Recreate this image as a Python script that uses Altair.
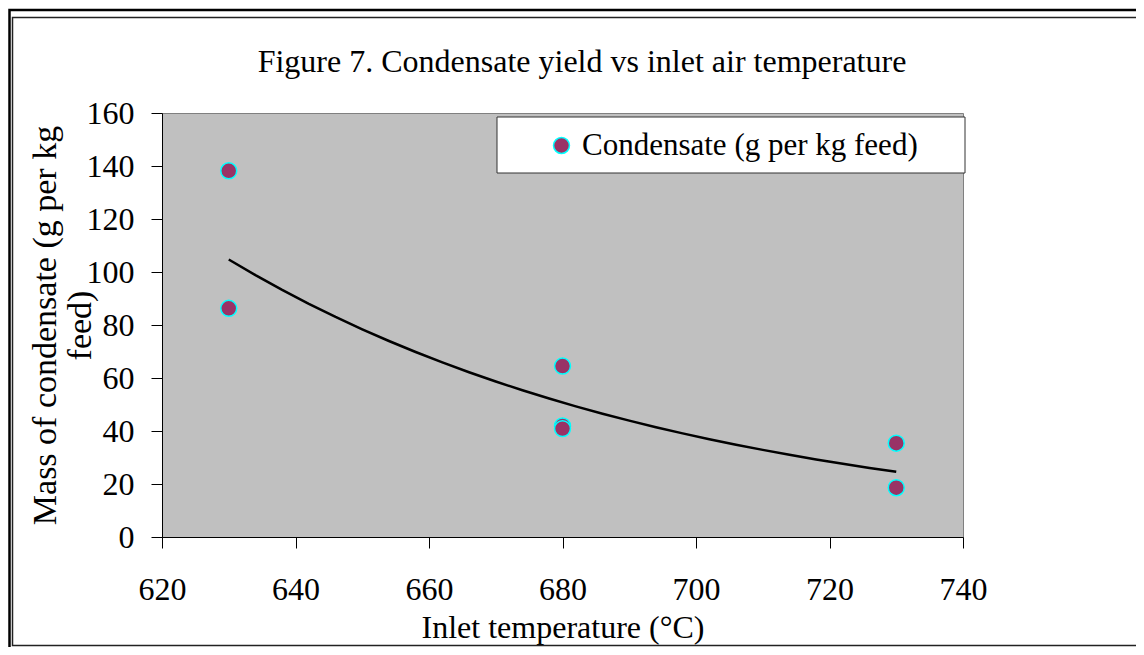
import altair as alt
import pandas as pd

# Data
temps = [630, 630, 680, 680, 680, 730, 730]
condensate = [138.2, 86.3, 64.5, 41.9, 40.9, 35.4, 18.6]
series_name = "Condensate (g per kg feed)"
x_ticks = [620, 640, 660, 680, 700, 720, 740]
y_ticks = [0, 20, 40, 60, 80, 100, 120, 140, 160]

title_text = "Figure 7. Condensate yield vs inlet air temperature"
x_title = "Inlet temperature (°C)"
y_title = ["Mass of condensate (g per kg", "feed)"]

FONT = "Liberation Serif"
W, H_PLOT = 801, 424
PAD_L, PAD_T = 154, 105
SVG_W, SVG_H = 1128, 639

df = pd.DataFrame({"x": temps, "y": condensate, "series": [series_name] * len(temps)})
one = pd.DataFrame({"k": [0]})

xscale = alt.Scale(domain=[620, 740], nice=False, zero=False)
yscale = alt.Scale(domain=[0, 160], nice=False)

xaxis = alt.Axis(values=x_ticks, grid=False, title=x_title, tickSize=11, tickColor="black",
                 domainColor="black", domainWidth=1, labelFont=FONT, labelFontSize=32,
                 labelColor="black", labelPadding=26, titleFont=FONT, titleFontSize=32,
                 titleFontWeight="normal", titleColor="black", titleBaseline="alphabetic",
                 titleY=100, labelFlush=False, labelOverlap=False)
yaxis = alt.Axis(values=y_ticks, grid=False, title=y_title, tickSize=11, tickColor="black",
                 domainColor="black", domainWidth=1, labelFont=FONT, labelFontSize=32,
                 labelColor="black", labelPadding=17, titleFont=FONT, titleFontSize=34,
                 titleFontWeight="normal", titleColor="black", titleBaseline="alphabetic",
                 titleAngle=270, titleX=-107, titleY=212, titleAlign="center",
                 titleLineHeight=35, labelFlush=False, labelOverlap=False)

# decorative frame (double border)
outer = alt.Chart(one).mark_rect(fillOpacity=0, stroke="black", strokeWidth=2.5).encode(
    x=alt.value(-PAD_L + 1.5), x2=alt.value(1200), y=alt.value(-PAD_T + 2), y2=alt.value(900))
inner = alt.Chart(one).mark_rect(fillOpacity=0, stroke="#222222", strokeWidth=1.5).encode(
    x=alt.value(-149.5), x2=alt.value(1200), y=alt.value(-95.5),
    y2=alt.value(SVG_H - PAD_T - 1.5))

title = alt.Chart(one).mark_text(font=FONT, fontSize=32, align="center", baseline="alphabetic",
                                 color="black").encode(
    x=alt.value(420), y=alt.value(-41), text=alt.value(title_text))

legend_box = alt.Chart(one).mark_rect(fill="white", stroke="#333333", strokeWidth=1).encode(
    x=alt.value(335), x2=alt.value(803), y=alt.value(4), y2=alt.value(60))

trend = alt.Chart(df).transform_calculate(
    ly="log(datum.y)"
).transform_regression(
    "x", "ly", method="poly", order=1
).transform_calculate(
    yfit="exp(datum.ly)"
).mark_line(color="black", strokeWidth=2.5).encode(
    x=alt.X("x:Q", scale=xscale, axis=xaxis),
    y=alt.Y("yfit:Q", scale=yscale, axis=yaxis),
)

points = alt.Chart(df).mark_circle(size=254, opacity=1, stroke="#00FFFF", strokeWidth=1.5).encode(
    x=alt.X("x:Q", scale=xscale, axis=xaxis),
    y=alt.Y("y:Q", scale=yscale, axis=yaxis),
    fill=alt.Fill("series:N", scale=alt.Scale(range=["#993366"]),
                  legend=alt.Legend(title=None, orient="none", legendX=384, legendY=17,
                                    padding=0, labelFont=FONT, labelFontSize=31,
                                    labelColor="black", labelOffset=5, labelLimit=1000,
                                    symbolType="circle", symbolSize=254,
                                    symbolStrokeColor="#00FFFF", symbolStrokeWidth=1.5,
                                    symbolOpacity=1, symbolFillColor="#993366")),
)

chart = alt.layer(outer, inner, title, legend_box, trend, points).properties(
    width=W, height=H_PLOT,
    autosize=alt.AutoSizeParams(type="none"),
    padding={"left": PAD_L, "top": PAD_T, "right": SVG_W - PAD_L - W,
             "bottom": SVG_H - PAD_T - H_PLOT},
    background="white",
).configure_view(fill="#C0C0C0", stroke="#808080", strokeWidth=1)

chart.save("out.html", embed_options={"renderer": "svg", "actions": False})
